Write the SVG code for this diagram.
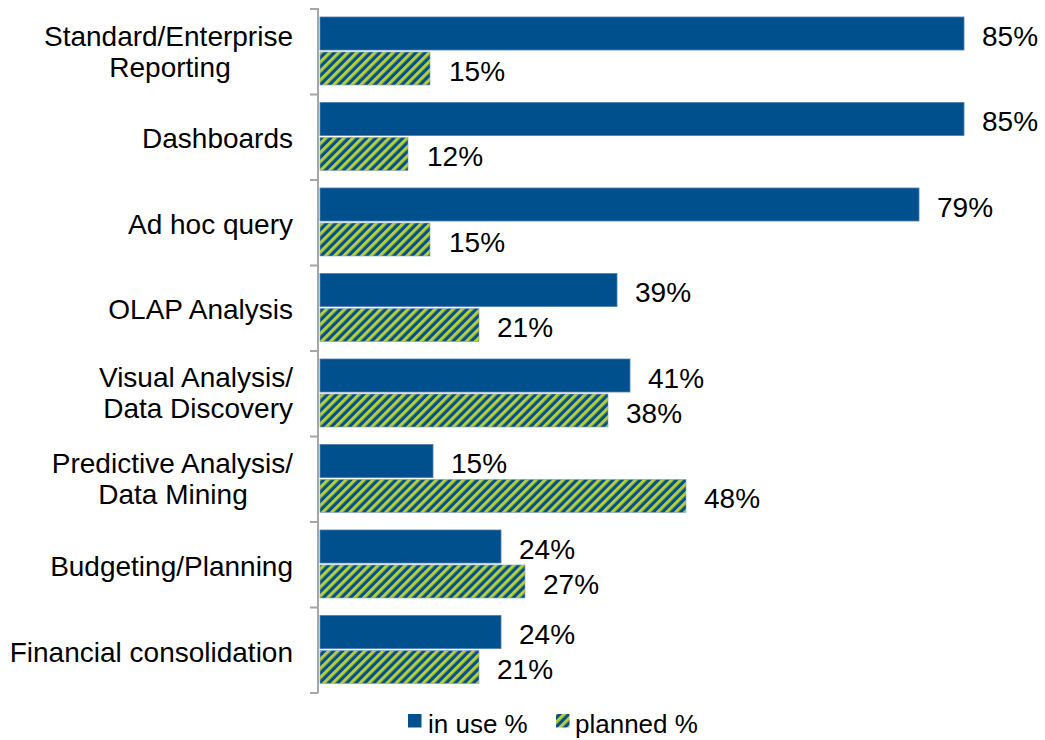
<svg xmlns="http://www.w3.org/2000/svg" width="1045" height="740" viewBox="0 0 1045 740">
<style>
text{font-family:"Liberation Sans",Arial,sans-serif;fill:#000}
.cat{font-size:28px;text-anchor:end}
.val{font-size:28px}
.leg{font-size:26px}
.iu{fill:#01508e;stroke:#4a7db0;stroke-width:0.8}
.pl{fill:url(#hatch);stroke:#7f9fc0;stroke-width:0.6}
.axis{stroke:#a6a6a6;stroke-width:2;fill:none}
</style>
<defs>
<pattern id="hatch" patternUnits="userSpaceOnUse" width="6.4" height="6.4" patternTransform="rotate(45)">
<rect x="0" y="0" width="6.4" height="6.4" fill="#01508e"/>
<rect x="0" y="0" width="3.2" height="6.4" fill="#b6cf38"/>
</pattern>
</defs>
<rect width="1045" height="740" fill="#fff"/>
<g id="axis" class="axis">
<path d="M318,8V693"/>
<path d="M310,9H318M310,94.5H318M310,180H318M310,265.5H318M310,351H318M310,436.5H318M310,522H318M310,607.5H318M310,693H318"/>
</g>
<g id="cat0">
<text class="cat" x="293" y="46">Standard/Enterprise</text>
<text class="cat" x="293" y="77" style="text-anchor:middle" dx="-123">Reporting</text>
<rect class="iu" x="320" y="17" width="644" height="33"/>
<rect class="pl" x="320" y="52" width="110" height="33"/>
<text class="val" x="982" y="45.5">85%</text>
<text class="val" x="449" y="80.5">15%</text>
</g>
<g id="cat1">
<text class="cat" x="293" y="148">Dashboards</text>
<rect class="iu" x="320" y="102.5" width="644" height="33"/>
<rect class="pl" x="320" y="137.5" width="88" height="33"/>
<text class="val" x="982" y="131">85%</text>
<text class="val" x="427" y="166">12%</text>
</g>
<g id="cat2">
<text class="cat" x="293" y="233.5">Ad hoc query</text>
<rect class="iu" x="320" y="188" width="599" height="33"/>
<rect class="pl" x="320" y="223" width="110" height="33"/>
<text class="val" x="937" y="216.5">79%</text>
<text class="val" x="449" y="251.5">15%</text>
</g>
<g id="cat3">
<text class="cat" x="293" y="319">OLAP Analysis</text>
<rect class="iu" x="320" y="273.5" width="297" height="33"/>
<rect class="pl" x="320" y="308.5" width="159" height="33"/>
<text class="val" x="635" y="302">39%</text>
<text class="val" x="497" y="337">21%</text>
</g>
<g id="cat4">
<text class="cat" x="293" y="387">Visual Analysis/</text>
<text class="cat" x="293" y="418">Data Discovery</text>
<rect class="iu" x="320" y="359" width="310" height="33"/>
<rect class="pl" x="320" y="394" width="288" height="33"/>
<text class="val" x="648" y="387.5">41%</text>
<text class="val" x="626" y="422.5">38%</text>
</g>
<g id="cat5">
<text class="cat" x="293" y="472.5">Predictive Analysis/</text>
<text class="cat" x="293" y="503.5" style="text-anchor:middle" dx="-120">Data Mining</text>
<rect class="iu" x="320" y="444.5" width="113" height="33"/>
<rect class="pl" x="320" y="479.5" width="366" height="33"/>
<text class="val" x="451" y="473">15%</text>
<text class="val" x="704" y="508">48%</text>
</g>
<g id="cat6">
<text class="cat" x="293" y="576">Budgeting/Planning</text>
<rect class="iu" x="320" y="530" width="181" height="33"/>
<rect class="pl" x="320" y="565" width="205" height="33"/>
<text class="val" x="519" y="558.5">24%</text>
<text class="val" x="543" y="593.5">27%</text>
</g>
<g id="cat7">
<text class="cat" x="293" y="662">Financial consolidation</text>
<rect class="iu" x="320" y="615.5" width="181" height="33"/>
<rect class="pl" x="320" y="650.5" width="159" height="33"/>
<text class="val" x="519" y="644">24%</text>
<text class="val" x="497" y="679">21%</text>
</g>
<g id="legend">
<rect x="408" y="714" width="13.5" height="13.5" fill="#01508e"/>
<text class="leg" x="428" y="733">in use %</text>
<rect x="556" y="714" width="13.5" height="13.5" fill="url(#hatch)"/>
<text class="leg" x="575" y="733">planned %</text>
</g>
</svg>
